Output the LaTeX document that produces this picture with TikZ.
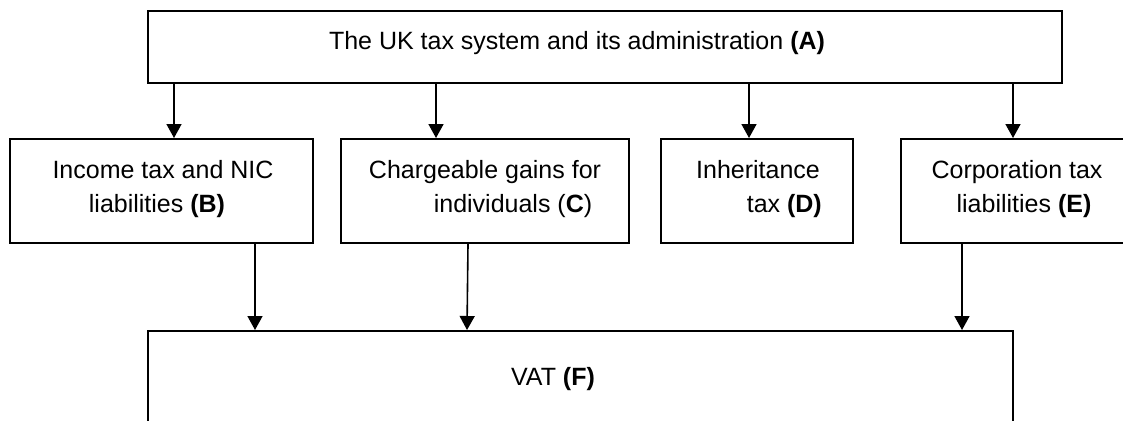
\documentclass[tikz,border=0pt]{standalone}
\usepackage{fontspec}
\setmainfont{Liberation Sans}
\usetikzlibrary{arrows.meta}
\tikzset{
  box/.style={draw=black, line width=2pt, rectangle, inner sep=0pt, fill=none},
  lbl/.style={inner sep=0pt, anchor=base, font=\fontsize{25}{34}\selectfont},
  lblr/.style={lbl, anchor=base east},
  conn/.style={line width=1.6pt, -{Triangle[width=15pt,length=14pt]}}
}
\begin{document}
\begin{tikzpicture}[x=1pt,y=-1pt]
\clip (0,0) rectangle (1123,420);
\fill[white] (0,0) rectangle (1123,420);
% boxes
\node[box, minimum width=914pt, minimum height=72pt] (A) at (605,47) {};
\node[box, minimum width=303pt, minimum height=104pt] (B) at (161.5,191) {};
\node[box, minimum width=288pt, minimum height=104pt] (C) at (485,191) {};
\node[box, minimum width=192pt, minimum height=104pt] (D) at (757,191) {};
\node[box, minimum width=240pt, minimum height=104pt] (E) at (1021,191) {};
\node[box, minimum width=865pt, minimum height=140pt] (F) at (580.5,401) {};
% labels
\node[lbl] (tA) at (577,49) {The UK tax system and its administration \textbf{(A)}};
\node[lbl] (tB1) at (163,178) {Income tax and NIC};
\node[lbl] (tB2) at (157,212) {liabilities \textbf{(B)}};
\node[lbl] (tC1) at (485,178) {Chargeable gains for};
\node[lbl] (tC2) at (513,212) {individuals (\textbf{C})};
\node[lbl] (tD1) at (758,178) {Inheritance};
\node[lblr] (tD2) at (822,212) {tax \textbf{(D)}};
\node[lbl] (tE1) at (1017,178) {Corporation tax};
\node[lbl] (tE2) at (1024,212) {liabilities \textbf{(E)}};
\node[lbl] (tF) at (553,385) {VAT \textbf{(F)}};
% connectors
\draw[conn] (A.south -| 174,0) -- (B.north -| 174,0);
\draw[conn] (A.south -| 436,0) -- (C.north -| 436,0);
\draw[conn] (A.south -| 749,0) -- (D.north -| 749,0);
\draw[conn] (A.south -| 1013,0) -- (E.north -| 1013,0);
\draw[conn] (B.south -| 255,0) -- (F.north -| 255,0);
\draw[conn] (C.south -| 468,0) -- (F.north -| 467,0);
\draw[conn] (E.south -| 962,0) -- (F.north -| 962,0);
\end{tikzpicture}
\end{document}
